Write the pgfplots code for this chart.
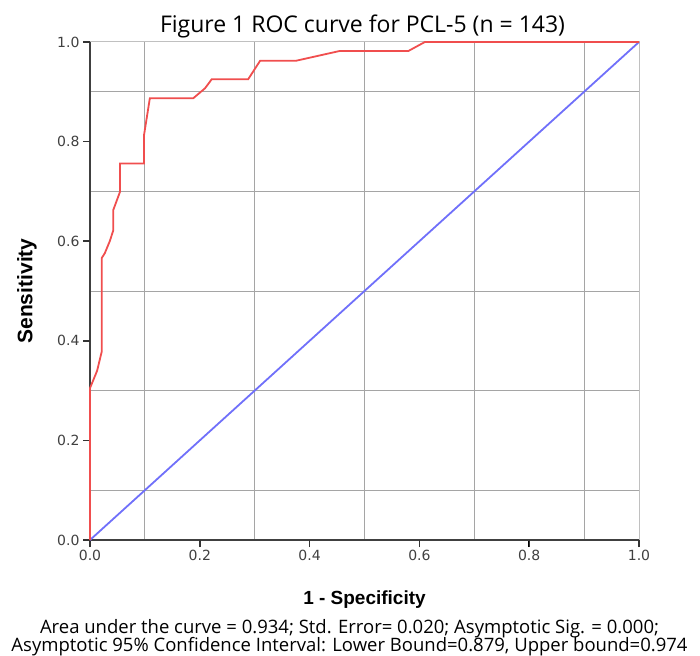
\documentclass[border=0pt]{standalone}
\usepackage{fontspec}
\setmainfont{Liberation Sans}
\newfontfamily\segoe{Open Sans}
\newfontfamily\tickfont{DejaVu Sans}
\usepackage{pgfplots}
\pgfplotsset{compat=1.18}
\definecolor{rocred}{RGB}{240,78,78}
\definecolor{refblue}{RGB}{112,112,250}
\definecolor{gridgray}{RGB}{165,165,165}
\begin{document}
\begin{tikzpicture}
\begin{axis}[
    scale only axis,
    width=549pt, height=498pt,
    xmin=0, xmax=1, ymin=0, ymax=1,
    axis line style={gridgray!70, line width=1pt},
    xtick pos=left, ytick pos=left,
    xtick={0,0.2,...,1.0}, ytick={0,0.2,...,1.0},
    minor xtick={0.1,0.3,0.5,0.7,0.9},
    minor ytick={0.1,0.3,0.5,0.7,0.9},
    xminorgrids=true, yminorgrids=true,
    minor grid style={gridgray, line width=0.9pt},
    minor tick length=0pt,
    major tick length=7pt,
    tick align=outside,
    tick style={black, line width=1.5pt},
    xticklabel style={/pgf/number format/.cd, fixed, fixed zerofill, precision=1, assume math mode=true},
    yticklabel style={/pgf/number format/.cd, fixed, fixed zerofill, precision=1, assume math mode=true},
    ticklabel style={font=\tickfont\fontsize{14}{16}\selectfont, text=black!75},
    every axis x label/.style={at={(rel axis cs:0.5,0)}, anchor=base, yshift=-64pt,
        font=\bfseries\fontsize{19}{22}\selectfont},
    every axis y label/.style={at={(rel axis cs:0,0.5)}, anchor=center, rotate=90, yshift=63pt,
        font=\bfseries\fontsize{21}{24}\selectfont},
    xlabel={1 - Specificity},
    ylabel={Sensitivity},
    clip=false,
]
\coordinate (ll) at (rel axis cs:0,0);
\coordinate (ur) at (rel axis cs:1,1);
% dark left and bottom axis lines with outward ticks
\draw[black!75, line width=1.2pt] (rel axis cs:0,1) -- (rel axis cs:0,0) -- (rel axis cs:1,0);
\pgfplotsinvokeforeach{0,0.2,0.4,0.6,0.8,1}{
    \draw[black!80, line width=1.4pt] (rel axis cs:#1,0) -- ++(0pt,-7pt);
    \draw[black!80, line width=1.4pt] (rel axis cs:0,#1) -- ++(-7pt,0pt);
}
\addplot[refblue, line width=1.8pt] coordinates {(0,0) (1,1)};
\addplot[rocred, line width=1.8pt] coordinates {
    (0,0) (0,0.305) (0.006,0.321) (0.013,0.34) (0.0213,0.378)
    (0.0213,0.566) (0.027,0.576) (0.036,0.60) (0.0425,0.622)
    (0.0425,0.663) (0.0546,0.699) (0.0546,0.756) (0.0984,0.756)
    (0.0984,0.813) (0.109,0.887) (0.188,0.887) (0.2095,0.907)
    (0.2216,0.925) (0.288,0.925) (0.31,0.9625) (0.376,0.9625)
    (0.455,0.982) (0.58,0.982) (0.61,1) (1,1)
};
\node[anchor=base, font=\segoe\fontsize{23}{25}\selectfont, inner sep=0pt]
    at ([xshift=-2pt, yshift=9pt]rel axis cs:0.5,1) {Figure 1 ROC curve for PCL-5 (n = 143)};
\node[anchor=base, font=\segoe\fontsize{18.5}{18}\selectfont, inner sep=0pt]
    at ([xshift=-15pt, yshift=-93pt]rel axis cs:0.5,0)
    {Area under the curve = 0.934; Std. Error= 0.020; Asymptotic Sig. = 0.000;};
\node[anchor=base, font=\segoe\fontsize{18.5}{18}\selectfont, inner sep=0pt]
    at ([xshift=-15pt, yshift=-111pt]rel axis cs:0.5,0)
    {Asymptotic 95\% Confidence Interval: Lower Bound=0.879, Upper bound=0.974};
\end{axis}
\pgfresetboundingbox
\path ([shift={(-90pt,-115pt)}]ll) rectangle ([shift={(61pt,42pt)}]ur);
\end{tikzpicture}
\end{document}
